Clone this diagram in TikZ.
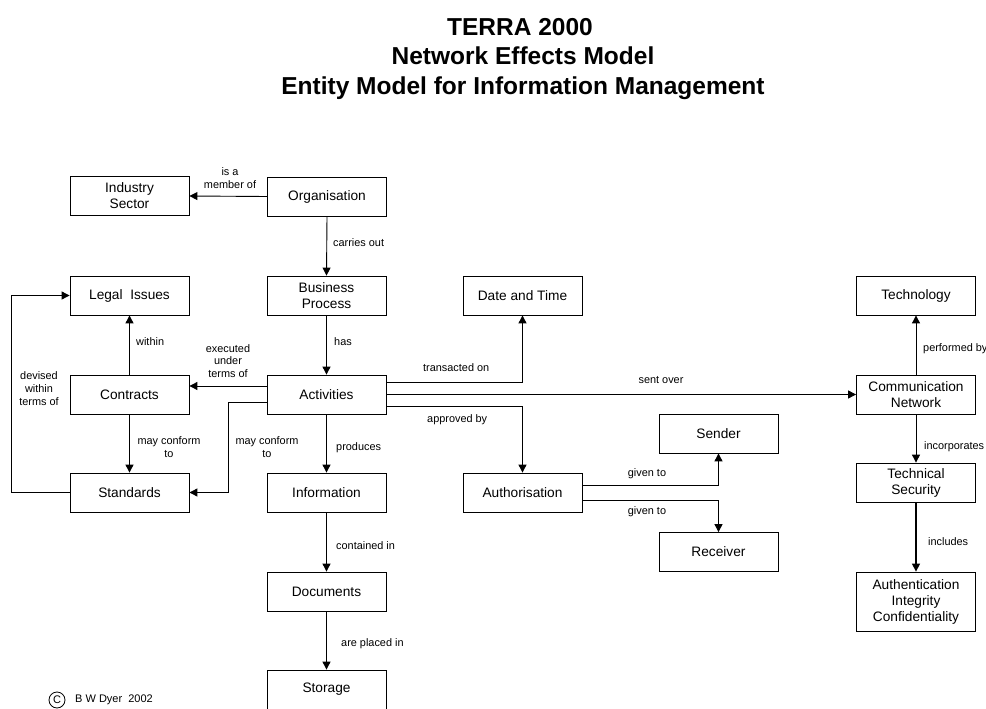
\documentclass[tikz,border=0pt]{standalone}
\usepackage{fontspec}
\setmainfont{Liberation Sans}
\usetikzlibrary{arrows.meta}
\begin{document}
\begin{tikzpicture}[x=1pt,y=-1pt,
  entity/.style={draw, line width=0.8pt, minimum width=119pt, minimum height=39pt,
    inner sep=0pt, align=center, font=\fontsize{13.7}{16}\selectfont},
  lbl/.style={inner sep=0pt, align=center, font=\fontsize{10.9}{12.8}\selectfont},
  ttl/.style={inner sep=0pt, font=\fontsize{24.5}{29}\selectfont\bfseries},
  arr/.style={line width=0.9pt, -{Triangle[length=8pt,width=8pt]}}]
\useasboundingbox (0,0) rectangle (986,709);
\clip (0,0) rectangle (986,709);

% heading
\node[ttl] (t1) at (520,27) {TERRA 2000};
\node[ttl] (t2) at (523,56) {Network Effects Model};
\node[ttl] (t3) at (523,88) {Entity Model for Information Management};

% entities
\node[entity] (ind) at (129.5,196) {Industry\\Sector};
\node[entity] (org) at (327,196.5) {Organisation};
\node[entity] (legal) at (129.5,295.5) {Legal\ \ Issues};
\node[entity] (bp) at (326.5,295.5) {Business\\Process};
\node[entity] (dt) at (522.5,295.5) {Date and Time};
\node[entity] (tech) at (916,295.5) {Technology};
\node[entity] (con) at (129.5,394.5) {Contracts};
\node[entity] (act) at (326.5,394.5) {Activities};
\node[entity] (comm) at (916,394.5) {Communication\\Network};
\node[entity] (sender) at (718.5,433.5) {Sender};
\node[entity] (std) at (129.5,492.5) {Standards};
\node[entity] (info) at (326.5,492.5) {Information};
\node[entity] (auth) at (522.5,492.5) {Authorisation};
\node[entity] (tsec) at (916,482.5) {Technical\\Security};
\node[entity] (recv) at (718.5,552) {Receiver};
\node[entity, minimum height=59pt] (authn) at (916,601.5) {Authentication\\Integrity\\Confidentiality};
\node[entity] (docs) at (326.5,591.5) {Documents};
\node[entity] (stor) at (326.5,689.5) {Storage};

% relationships
\draw[arr] (org.west) -- (ind.east);
\draw[arr] (org.south) -- (bp.north);
\draw[arr] (bp.south) -- (act.north);
\draw[arr] (con.north) -- (legal.south);
\draw[arr] ([yshift=8.5pt]act.west) -- ([yshift=8.5pt]con.east);
\draw[arr] ([yshift=-7.5pt]act.west) -| ([xshift=39pt]std.east) -- (std.east);
\draw[arr] (con.south) -- (std.north);
\draw[arr] (std.west) -- ([xshift=-58pt]std.west) |- (legal.west);
\draw[arr] (act.south) -- (info.north);
\draw[arr] (info.south) -- (docs.north);
\draw[arr] (docs.south) -- (stor.north);
\draw[arr] ([yshift=12.5pt]act.east) -| (dt.south);
\draw[arr] (act.east) -- (comm.west);
\draw[arr] ([yshift=-11.5pt]act.east) -| (auth.north);
\draw[arr] ([yshift=7.5pt]auth.east) -| (sender.south);
\draw[arr] ([yshift=-7.5pt]auth.east) -| (recv.north);
\draw[arr] (comm.north) -- (tech.south);
\draw[arr] (comm.south) -- (tsec.north);
\draw[arr, line width=1.3pt] (tsec.south) -- (authn.north);

% relationship labels
\node[lbl] (l1) at (230,178) {is a\\member of};
\node[lbl, anchor=west] (l2) at (333,243) {carries out};
\node[lbl, anchor=west] (l3) at (334,342) {has};
\node[lbl, anchor=west] (l4) at (136,342) {within};
\node[lbl] (l5) at (228,361) {executed\\under\\terms of};
\node[lbl] (l6) at (39,388.5) {devised\\within\\terms of};
\node[lbl] (l7) at (169,447.5) {may conform\\to};
\node[lbl] (l8) at (267,447.5) {may conform\\to};
\node[lbl, anchor=west] (l9) at (336,448) {produces};
\node[lbl, anchor=west] (l10) at (336,546) {contained in};
\node[lbl, anchor=west] (l11) at (341,644) {are placed in};
\node[lbl, anchor=west] (l12) at (423,368) {transacted on};
\node[lbl] (l13) at (661,380) {sent over};
\node[lbl, anchor=west] (l14) at (427,420) {approved by};
\node[lbl] (l15) at (647,474) {given to};
\node[lbl] (l16) at (647,512) {given to};
\node[lbl, anchor=west] (l17) at (923,349) {performed by};
\node[lbl, anchor=west] (l18) at (924,447) {incorporates};
\node[lbl, anchor=west] (l19) at (928,542) {includes};

% copyright mark
\node[draw, circle, line width=0.8pt, minimum size=16pt, inner sep=0pt,
  font=\fontsize{11}{11}\selectfont] (cmark) at (57,700) {C};
\node[lbl, anchor=west, font=\fontsize{11}{13}\selectfont] (cby) at (75,699.5) {B W Dyer\ \ 2002};
\end{tikzpicture}
\end{document}
